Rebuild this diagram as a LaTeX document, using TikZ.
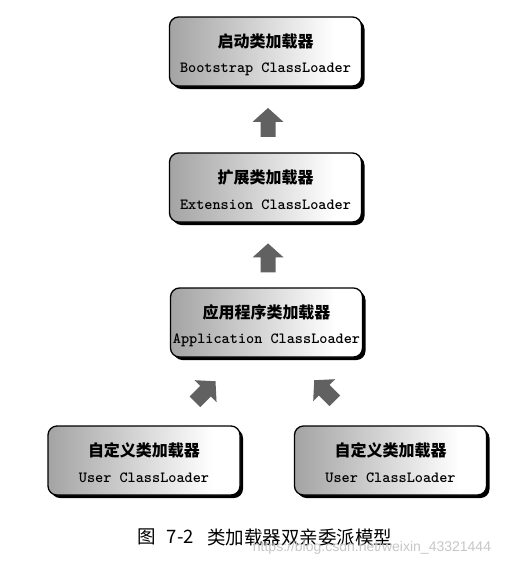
\documentclass[tikz,border=0pt]{standalone}
\usepackage{fontspec}
\newfontfamily\cjk{Noto Sans CJK SC}
\newfontfamily\wmfont{Liberation Sans}
\usetikzlibrary{calc,shadows}
\pgfdeclarehorizontalshading{boxshade}{100bp}{color(0bp)=(black!45); color(20bp)=(black!40); color(68bp)=(white); color(100bp)=(white)}
\tikzset{
  pics/blockarrow/.style={code={
    \fill[black!62] (0,-14.5) -- (15.5,-0.5) -- (7.5,-0.5) -- (7.5,14.5) -- (-7.5,14.5) -- (-7.5,-0.5) -- (-15.5,-0.5) -- cycle;}},
  loaderbox/.style={draw=black, line width=1.3pt, rounded corners=9pt,
    minimum width=192pt, minimum height=69pt, inner sep=0pt, shading=boxshade,
    drop shadow={shadow xshift=3pt, shadow yshift=-3pt, fill=black, opacity=1}},
  cntext/.style={font=\cjk\bfseries\fontsize{16}{16}\selectfont, inner sep=0pt},
  entext/.style={font=\ttfamily\bfseries\fontsize{15.5}{15.5}\selectfont, inner sep=0pt},
  captext/.style={font=\cjk\fontsize{18.5}{18.5}\selectfont, inner sep=0pt, anchor=west},
  wmtext/.style={font=\wmfont\fontsize{14}{14}\selectfont, text=black!22, inner sep=0pt}
}
\begin{document}
\begin{tikzpicture}[x=1pt,y=-1pt]
\useasboundingbox[fill=white] (0,0) rectangle (519,566);

\node[loaderbox] (b1) at (265.5,51.5) {};
\node[cntext] (b1cn) at ($(b1.center)+(0,-10.5)$) {启动类加载器};
\node[entext] (b1en) at ($(b1.center)+(0,17.5)$) {Bootstrap ClassLoader};

\node[loaderbox] (b2) at (265.5,187.5) {};
\node[cntext] (b2cn) at ($(b2.center)+(0,-10.5)$) {扩展类加载器};
\node[entext] (b2en) at ($(b2.center)+(0,17.5)$) {Extension ClassLoader};

\node[loaderbox] (b3) at (266.5,322.5) {};
\node[cntext] (b3cn) at ($(b3.center)+(0,-10.5)$) {应用程序类加载器};
\node[entext] (b3en) at ($(b3.center)+(0,17.5)$) {Application ClassLoader};

\node[loaderbox] (b4) at (144,460.5) {};
\node[cntext] (b4cn) at ($(b4.center)+(0,-10.5)$) {自定义类加载器};
\node[entext] (b4en) at ($(b4.center)+(0,17.5)$) {User ClassLoader};

\node[loaderbox] (b5) at (390.5,460.5) {};
\node[cntext] (b5cn) at ($(b5.center)+(0,-10.5)$) {自定义类加载器};
\node[entext] (b5en) at ($(b5.center)+(0,17.5)$) {User ClassLoader};

\pic at ($(b1.south)!0.545!(b2.north)+(2.5,0)$) {blockarrow};
\pic at ($(b2.south)!0.545!(b3.north)+(2,0)$) {blockarrow};
\pic[rotate=-45] at ($(b4.north east)!0.5!(b3.south west)$) {blockarrow};
\pic[rotate=45] at ($(b5.north west)!0.5!(b3.south east)+(-4,-1)$) {blockarrow};

\node[captext] (capno) at (137,537) {图\hspace{0.6em}7-2};
\node[captext] (captitle) at (207,537) {类加载器双亲委派模型};
\node[wmtext] (wm) at (372,548) {https://blog.csdn.net/weixin\_43321444};
\end{tikzpicture}
\end{document}
